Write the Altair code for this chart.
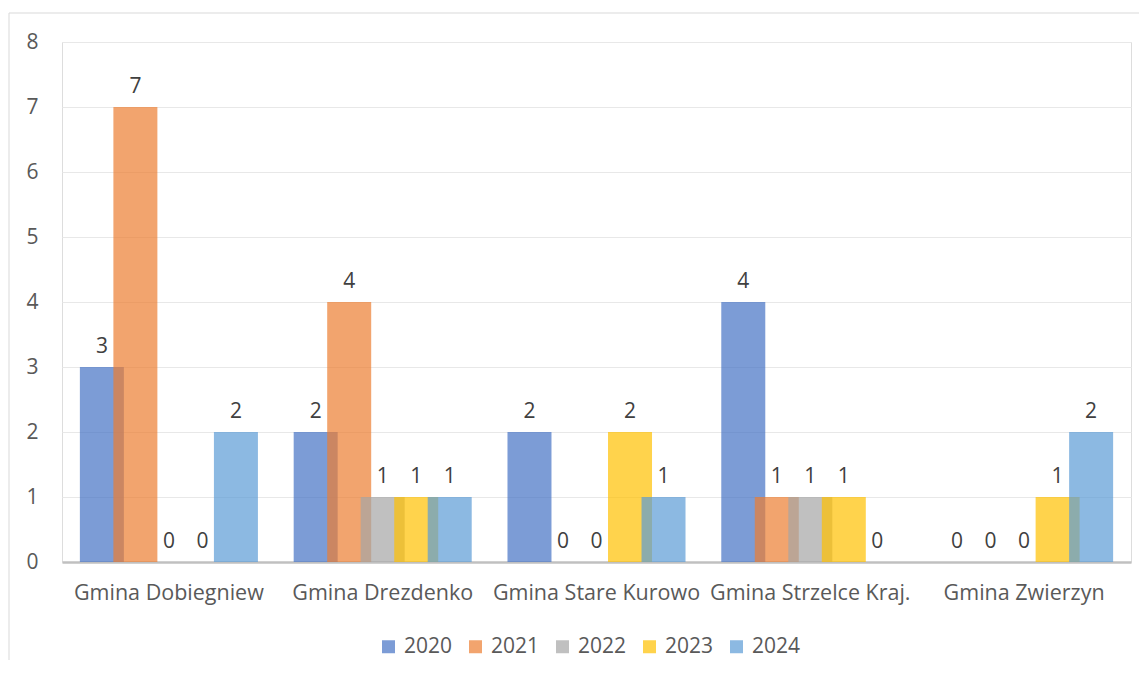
import altair as alt
import pandas as pd

categories = ["Gmina Dobiegniew", "Gmina Drezdenko", "Gmina Stare Kurowo",
              "Gmina Strzelce Kraj.", "Gmina Zwierzyn"]
years = ["2020", "2021", "2022", "2023", "2024"]
v2020 = [3, 2, 2, 4, 0]
v2021 = [7, 4, 0, 1, 0]
v2022 = [0, 1, 0, 1, 0]
v2023 = [0, 1, 2, 1, 1]
v2024 = [2, 1, 1, 0, 2]
colors = ["#4472C4", "#ED7D31", "#A5A5A5", "#FFC000", "#5B9BD5"]

series = [v2020, v2021, v2022, v2023, v2024]
rows = []
for yi, yr in enumerate(years):
    for ci, cat in enumerate(categories):
        rows.append({"gmina": cat, "rok": yr, "wartosc": series[yi][ci]})
df = pd.DataFrame(rows)

FONT = "Open Sans"
FS = 21

x_enc = alt.X("gmina:N", sort=categories,
              scale=alt.Scale(paddingInner=0, paddingOuter=0),
              axis=alt.Axis(title=None, labelAngle=0, labelFontSize=21.5,
                            labelColor="#595959", labelFont=FONT, labelLimit=0,
                            labelOverlap=False,
                            labelPadding=20, ticks=False, domainColor="#C0C0C0",
                            domainWidth=2.5, grid=False))
xo_enc = alt.XOffset("rok:N", sort=years,
                     scale=alt.Scale(paddingInner=0, paddingOuter=0.69))
y_enc = alt.Y("wartosc:Q", scale=alt.Scale(domain=[0, 8]),
              axis=alt.Axis(title=None, values=list(range(9)), format="d",
                            labelFontSize=FS,
                            labelColor="#595959", labelFont=FONT, labelPadding=24,
                            ticks=False, domain=False, gridColor="#E8E8E8",
                            gridWidth=1))
color_enc = alt.Color("rok:N", sort=years,
                      scale=alt.Scale(domain=years, range=colors),
                      legend=alt.Legend(title=None, orient="none", direction="horizontal",
                                        legendX=316, legendY=594,
                                        symbolType="square", symbolSize=169,
                                        symbolOpacity=0.7, symbolStrokeWidth=0,
                                        labelFontSize=FS, labelFont=FONT,
                                        labelColor="#595959", labelOffset=5,
                                        columnPadding=12))

bars = alt.Chart(df).mark_bar(width=44, opacity=0.7).encode(
    x=x_enc, xOffset=xo_enc, y=y_enc, color=color_enc)

labels = alt.Chart(df).mark_text(dy=-14, fontSize=FS, font=FONT,
                                 color="#404040", baseline="alphabetic").encode(
    x=alt.X("gmina:N", sort=categories), xOffset=alt.XOffset("rok:N", sort=years),
    y="wartosc:Q", text="wartosc:Q")

border = alt.Chart(pd.DataFrame({"a": [0]})).mark_rect(
    fillOpacity=0, stroke="#D9D9D9", strokeWidth=1).encode(
    x=alt.value(-53), x2=alt.value(1300), y=alt.value(-29), y2=alt.value(800))

chart = alt.layer(border, bars, labels).properties(
    width=1069, height=520,
    autosize=alt.AutoSizeParams(type="none"),
    padding={"left": 54, "top": 34, "right": 8, "bottom": 98},
).configure_view(stroke=None).configure(font=FONT)

chart.save("out.html", embed_options={"renderer": "svg", "actions": False})
